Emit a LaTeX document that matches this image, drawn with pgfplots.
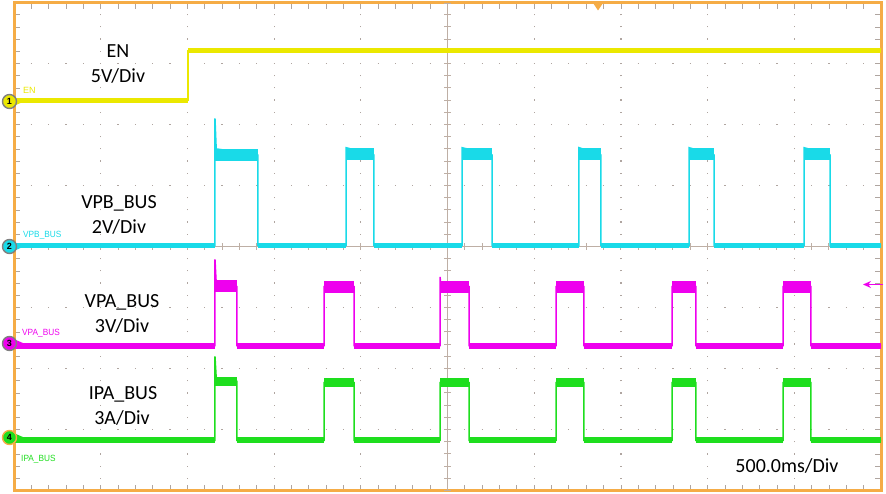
\documentclass[border=0pt]{standalone}
\usepackage{pgfplots}
\pgfplotsset{compat=1.18}
\usetikzlibrary{arrows.meta}
\usepackage{fontspec}
\setmainfont{Carlito}
\newfontfamily\arialf{Liberation Sans}
\definecolor{frameor}{RGB}{245,172,70}
\definecolor{ench}{RGB}{235,232,0}
\definecolor{vpbch}{RGB}{25,218,232}
\definecolor{vpach}{RGB}{238,0,238}
\definecolor{ipach}{RGB}{30,222,30}
\definecolor{gridc}{RGB}{175,165,160}
\definecolor{ctrc}{RGB}{190,175,165}
\begin{document}
\begin{tikzpicture}
\begin{axis}[
  scale only axis, width=867pt, height=488pt,
  xmin=0, xmax=5, ymin=-4, ymax=4,
  xtick={0,0.5,1,1.5,2,2.5,3,3.5,4,4.5,5}, ytick={-4,-3,-2,-1,0,1,2,3,4},
  minor x tick num=4, minor y tick num=4,
  xticklabels={}, yticklabels={},
  tick pos=both, tick align=inside,
  major tick length=6pt, minor tick length=6pt,
  tick style={gridc, line width=0.8pt},
  grid=major,
  x grid style={gridc, line width=1.2pt, dash pattern=on 1.2pt off 11pt, dash phase=0.6pt},
  y grid style={gridc, line width=1.2pt, dash pattern=on 1.2pt off 16.14pt, dash phase=0.6pt},
  axis line style={frameor, line width=3pt},
  unbounded coords=jump,
]
% centre crosshair
\draw[ctrc, line width=1pt] (axis cs:2.5,-4) -- (axis cs:2.5,4);
\draw[ctrc, line width=7pt, dash pattern=on 1pt off 11.2pt, dash phase=0.5pt] (axis cs:2.5,-4) -- (axis cs:2.5,4);
\draw[ctrc, line width=1pt] (axis cs:0,0) -- (axis cs:5,0);
\draw[ctrc, line width=7pt, dash pattern=on 1pt off 16.34pt, dash phase=0.5pt] (axis cs:0,0) -- (axis cs:5,0);

% ---- EN ----
\addplot[ench, line width=1.5pt] coordinates {(0,2.393) (1.003,2.393) (1.003,3.213) (5,3.213)};
\addplot[ench, line width=5pt, line cap=butt] coordinates {(0,2.393) (1.003,2.393) (nan,nan) (1.003,3.213) (5,3.213)};

% ---- VPB_BUS ----
\addplot[vpbch, line width=1.5pt] coordinates {
 (0,0.02) (1.159,0.02) (1.159,2.1) (1.166,1.6) (1.407,1.5) (1.407,0.02)
 (1.915,0.02) (1.915,1.62) (2.076,1.5) (2.076,0.02)
 (2.584,0.02) (2.584,1.62) (2.757,1.5) (2.757,0.02)
 (3.258,0.02) (3.258,1.62) (3.385,1.5) (3.385,0.02)
 (3.893,0.02) (3.893,1.62) (4.037,1.5) (4.037,0.02)
 (4.556,0.02) (4.556,1.62) (4.706,1.5) (4.706,0.02) (5,0.02)};
\addplot[vpbch, line width=5pt, line cap=butt] coordinates {
 (0,0.02) (1.159,0.02) (nan,nan) (1.407,0.02) (1.915,0.02) (nan,nan)
 (2.076,0.02) (2.584,0.02) (nan,nan) (2.757,0.02) (3.258,0.02) (nan,nan)
 (3.385,0.02) (3.893,0.02) (nan,nan) (4.037,0.02) (4.556,0.02) (nan,nan)
 (4.706,0.02) (5,0.02)};
\addplot[vpbch, line width=12pt, line cap=butt] coordinates {
 (1.159,1.5) (1.407,1.5) (nan,nan) (1.915,1.52) (2.076,1.52) (nan,nan)
 (2.584,1.52) (2.757,1.52) (nan,nan) (3.258,1.52) (3.385,1.52) (nan,nan)
 (3.893,1.52) (4.037,1.52) (nan,nan) (4.556,1.52) (4.706,1.52)};

% ---- VPA_BUS ----
\addplot[vpach, line width=1.5pt] coordinates {
 (0,-1.623) (1.159,-1.623) (1.159,-0.21) (1.166,-0.6) (1.286,-0.656) (1.286,-1.623)
 (1.788,-1.623) (1.788,-0.656) (1.961,-0.656) (1.961,-1.623)
 (2.457,-1.623) (2.457,-0.5) (2.463,-0.656) (2.624,-0.656) (2.624,-1.623)
 (3.126,-1.623) (3.126,-0.656) (3.287,-0.656) (3.287,-1.623)
 (3.795,-1.623) (3.795,-0.656) (3.933,-0.656) (3.933,-1.623)
 (4.435,-1.623) (4.435,-0.656) (4.596,-0.656) (4.596,-1.623) (5,-1.623)};
\addplot[vpach, line width=6pt, line cap=butt] coordinates {
 (0,-1.623) (1.159,-1.623) (nan,nan) (1.286,-1.623) (1.788,-1.623) (nan,nan)
 (1.961,-1.623) (2.457,-1.623) (nan,nan) (2.624,-1.623) (3.126,-1.623) (nan,nan)
 (3.287,-1.623) (3.795,-1.623) (nan,nan) (3.933,-1.623) (4.435,-1.623) (nan,nan)
 (4.596,-1.623) (5,-1.623)};
\addplot[vpach, line width=12pt, line cap=butt] coordinates {
 (1.159,-0.64) (1.286,-0.64) (nan,nan) (1.788,-0.656) (1.961,-0.656) (nan,nan)
 (2.457,-0.656) (2.624,-0.656) (nan,nan) (3.126,-0.656) (3.287,-0.656) (nan,nan)
 (3.795,-0.656) (3.933,-0.656) (nan,nan) (4.435,-0.656) (4.596,-0.656)};

% ---- IPA_BUS ----
\addplot[ipach, line width=1.5pt] coordinates {
 (0,-3.18) (1.159,-3.18) (1.159,-1.80) (1.166,-2.15) (1.286,-2.21) (1.286,-3.18)
 (1.788,-3.18) (1.788,-2.23) (1.961,-2.23) (1.961,-3.18)
 (2.457,-3.18) (2.457,-2.23) (2.624,-2.23) (2.624,-3.18)
 (3.126,-3.18) (3.126,-2.23) (3.287,-2.23) (3.287,-3.18)
 (3.795,-3.18) (3.795,-2.23) (3.933,-2.23) (3.933,-3.18)
 (4.435,-3.18) (4.435,-2.23) (4.596,-2.23) (4.596,-3.18) (5,-3.18)};
\addplot[ipach, line width=6pt, line cap=butt] coordinates {
 (0,-3.18) (1.159,-3.18) (nan,nan) (1.286,-3.18) (1.788,-3.18) (nan,nan)
 (1.961,-3.18) (2.457,-3.18) (nan,nan) (2.624,-3.18) (3.126,-3.18) (nan,nan)
 (3.287,-3.18) (3.795,-3.18) (nan,nan) (3.933,-3.18) (4.435,-3.18) (nan,nan)
 (4.596,-3.18) (5,-3.18)};
\addplot[ipach, line width=9pt, line cap=butt] coordinates {
 (1.159,-2.21) (1.286,-2.21) (nan,nan) (1.788,-2.23) (1.961,-2.23) (nan,nan)
 (2.457,-2.23) (2.624,-2.23) (nan,nan) (3.126,-2.23) (3.287,-2.23) (nan,nan)
 (3.795,-2.23) (3.933,-2.23) (nan,nan) (4.435,-2.23) (4.596,-2.23)};
\end{axis}

% big labels
\begin{scope}[every node/.style={anchor=base, inner sep=0pt, font=\fontsize{20}{24}\selectfont}]
\node at (104pt,433pt) {EN};
\node at (104pt,408pt) {5V/Div};
\node at (105pt,282pt) {VPB\_BUS};
\node at (105pt,257pt) {2V/Div};
\node at (108pt,183pt) {VPA\_BUS};
\node at (108pt,158pt) {3V/Div};
\node at (109pt,91pt) {IPA\_BUS};
\node at (108pt,66pt) {3A/Div};
\node at (773pt,18pt) {500.0ms/Div};
\end{scope}

% small channel labels
\begin{scope}[every node/.style={anchor=base west, inner sep=0pt, font=\arialf\fontsize{9}{10}\selectfont}]
\node[text=ench] at (9pt,397pt) {EN};
\node[text=vpbch] at (9pt,253pt) {\scalebox{0.92}[1]{VPB\_BUS}};
\node[text=vpach] at (8pt,155pt) {\scalebox{0.92}[1]{VPA\_BUS}};
\node[text=ipach] at (7pt,29pt) {\scalebox{0.92}[1]{IPA\_BUS}};
\end{scope}

% channel markers
\foreach \yy/\c/\n/\o in {389/ench/1/gray, 244/vpbch/2/gray, 147/vpach/3/gray, 53/ipach/4/frameor} {
  \fill[\c] (2pt,\yy pt+3.5pt) -- (10pt,\yy pt) -- (2pt,\yy pt-3.5pt) -- cycle;
  \draw[\o, line width=1.4pt, fill=\c] (-4.5pt,\yy pt) circle (7pt);
  \node[inner sep=0pt, font=\arialf\fontsize{9}{9}\selectfont\bfseries] at (-4.5pt,\yy pt) {\n};
}

% trigger position and level markers
\fill[frameor] (578pt,489pt) -- (590pt,489pt) -- (584pt,480pt) -- cycle;
\draw[vpach, line width=1.2pt, -{Stealth[length=8pt,width=7pt]}] (869pt,206pt) -- (849pt,206pt);

\pgfresetboundingbox
\path[use as bounding box] (-14pt,-2.5pt) rectangle (872pt,490.5pt);
\end{tikzpicture}
\end{document}
